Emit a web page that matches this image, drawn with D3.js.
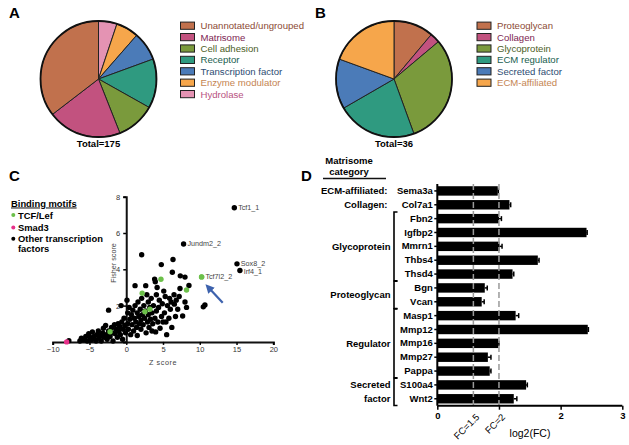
<!DOCTYPE html>
<html><head><meta charset="utf-8">
<script src="https://cdn.jsdelivr.net/npm/d3@7"></script>
<style>body{margin:0;background:#fff}svg{display:block;font-family:"Liberation Sans",Arial,sans-serif}</style>
</head><body><svg id="c" width="629" height="445"></svg>
<script>
// ---------- DATA ----------
const aCategories = ["Unannotated/ungrouped","Matrisome","Cell adhesion","Receptor","Transcription factor","Enzyme modulator","Hydrolase"];
const aCounts = [62,36,19,24,14,11,9];
const aTotal = "Total=175";
const bCategories = ["Proteoglycan","Collagen","Glycoprotein","ECM regulator","Secreted factor","ECM-affiliated"];
const bCounts = [4,1,11,8,5,7];
const bTotal = "Total=36";
const sliceFills = ["#c1714d","#c2527f","#7a9a3c","#2f9a80","#4b7bb8","#f6a64b","#e493b3"];
const legendTextColors = ["#8c4a35","#7d2552","#4d5e27","#21604f","#2e4c72","#c58552","#b8527f"];

const otherTF = [[-7.8,0.07],[-6.3,0.05],[-6.1,0.2],[-5.8,0.12],[-5.5,0.3],[-5.3,0.05],[-5.1,0.45],[-4.9,0.25],[-4.8,0.1],[-4.6,0.55],[-4.4,0.3],[-4.3,0.15],[-4.1,0.05],[-4.0,0.4],[-3.8,0.6],[-3.7,0.2],[-3.5,0.35],[-3.4,0.05],[-3.2,0.5],[-3.1,0.75],[-3.0,0.25],[-2.8,0.9],[-2.7,0.4],[-2.6,0.15],[-2.4,0.6],[-2.4,1.75],[-2.2,0.3],[-2.0,0.8],[-1.9,0.5],[-1.8,0.05],[-1.6,0.95],[-1.5,0.45],[-1.4,0.7],[-1.2,0.25],[-1.1,1.0],[-1.0,0.6],[-0.9,0.85],[-0.8,0.4],[-0.7,2.0],[-0.6,1.1],[-0.5,0.15],[-0.4,0.7],[-0.3,1.3],[-0.2,0.9],[-0.1,0.5],[0.1,2.3],[0.2,1.6],[0.2,1.0],[0.3,0.7],[0.4,1.9],[0.5,1.25],[0.6,0.4],[0.7,1.5],[0.8,0.95],[0.9,1.75],[1.0,0.6],[1.2,3.1],[1.1,1.3],[1.2,2.0],[1.3,1.1],[1.4,0.8],[1.5,1.6],[1.5,0.35],[1.6,2.2],[1.7,1.4],[1.8,1.0],[1.9,1.8],[2.0,0.7],[2.0,1.2],[2.1,4.8],[2.1,2.4],[2.2,1.5],[2.3,0.95],[2.4,2.0],[2.5,1.3],[2.6,1.7],[2.65,3.1],[2.7,0.5],[2.8,2.6],[2.9,1.1],[3.0,2.2],[3.0,1.5],[3.1,0.8],[3.2,1.9],[3.3,1.25],[3.4,2.4],[3.5,0.6],[3.5,1.6],[3.6,1.0],[3.7,2.0],[3.86,3.46],[3.95,3.31],[3.9,1.3],[4.0,0.55],[4.1,2.6],[4.1,1.7],[4.2,3.0],[4.3,1.1],[4.4,1.9],[4.5,2.3],[4.6,0.75],[4.77,4.26],[4.8,1.4],[4.9,2.1],[5.0,1.1],[5.1,2.8],[5.2,1.6],[5.3,2.5],[5.4,1.1],[5.5,0.4],[5.6,2.0],[5.8,1.3],[5.9,2.4],[6.0,1.8],[6.1,2.2],[6.2,0.8],[6.27,3.84],[6.36,4.54],[6.5,2.6],[6.54,2.08],[6.7,1.4],[6.8,2.3],[7.0,1.8],[7.2,2.5],[7.35,3.64],[7.31,2.94],[7.67,1.43],[7.99,3.57],[7.99,2.2],[8.2,1.9],[8.53,3.11],[10.48,1.93],[10.7,2.03]];
const tcfLef = [[-2.2,0.56],[2.17,2.68],[2.54,1.66],[3.22,1.8],[4.72,3.45],[8.2,2.86],[10.25,3.58]];
const smad3 = [[-8.1,0]];
const labeledNames = ["Tcf1_1","Jundm2_2","Sox8_2","Irf4_1","Tcf7l2_2"];
const labeledZ = [14.7,7.8,15.06,15.46,10.25];
const labeledF = [7.39,5.39,4.30,3.93,3.58];
const labeledGroup = ["other","other","other","other","tcf"];
const xTicksC = [-10,-5,0,5,10,15,20];
const yTicksC = [0,2,4,6,8];

const genes = ["Sema3a","Col7a1","Fbn2","Igfbp2","Mmrn1","Thbs4","Thsd4","Bgn","Vcan","Masp1","Mmp12","Mmp16","Mmp27","Pappa","S100a4","Wnt2"];
const log2FC = [0.98,1.17,1.0,2.42,1.01,1.63,1.22,0.77,0.72,1.27,2.44,0.99,0.82,0.85,1.44,1.24];
const log2FCerr = [0.01,0.02,0.04,0.01,0.04,0.02,0.02,0.04,0.04,0.05,0.01,0.01,0.05,0.02,0.02,0.05];
const groupNames = [["ECM-affiliated:"],["Collagen:"],["Glycoprotein"],["Proteoglycan"],["Regulator"],["Secreted","factor"]];
const groupStart = [0,1,2,7,9,14];
const groupEnd = [0,1,6,8,13,15];
const groupBracket = [false,false,true,true,true,true];
const xTicksD = [0,1,2,3];
const xTickLabelsD = ["0","","2","3"];
const thresholdFC = [1.5,2];
const thresholdLabels = ["FC=1.5","FC=2"];

// ---------- DRAW ----------
const svg = d3.select("#c");

function panelLabel(t,x,y){svg.append("text").attr("x",x).attr("y",y).attr("font-size",15).attr("font-weight","bold").text(t);}
panelLabel("A",9,18); panelLabel("B",315,18); panelLabel("C",9,181); panelLabel("D",301,181);

function pie(cx,cy,r,cats,counts,clockwiseOrder,total,legX){
  const idx = cats.map((c,i)=>i);
  const order = clockwiseOrder ? idx : idx.slice().reverse();
  const arcs = d3.pie().sort(null).value(i=>counts[i])(order);
  const g = svg.append("g").attr("transform",`translate(${cx},${cy})`);
  const arc = d3.arc().innerRadius(0).outerRadius(r);
  g.selectAll("path").data(arcs).join("path").attr("d",arc)
    .attr("fill",d=>sliceFills[d.data]).attr("stroke","#222").attr("stroke-width",1);
  g.append("circle").attr("r",r).attr("fill","none").attr("stroke","#111").attr("stroke-width",1.8);
  svg.append("text").attr("x",cx).attr("y",cy+r+9.5).attr("text-anchor","middle")
    .attr("font-size",9.5).attr("font-weight","bold").text(total);
  const lg = svg.append("g");
  cats.forEach((c,i)=>{
    const y = 25.7 + i*11.4;
    lg.append("rect").attr("x",legX).attr("y",y-3.6).attr("width",14).attr("height",7.2)
      .attr("fill",sliceFills[i]).attr("stroke","#222").attr("stroke-width",1);
    lg.append("text").attr("x",legX+20).attr("y",y+3.4).attr("font-size",9.6)
      .attr("fill",legendTextColors[i]).text(c);
  });
}
pie(98.5,79,58,aCategories,aCounts,false,aTotal,180.5);
pie(394,79,58,bCategories,bCounts,true,bTotal,477);

// ---- Panel C scatter ----
const xC = d3.scaleLinear().domain([-10,20]).range([52.7,273.3]);
const yC = d3.scaleLinear().domain([0,8]).range([341.9,196.7]);
const gC = svg.append("g");
const xAxC = d3.axisBottom(xC).tickValues(xTicksC).tickSize(3).tickFormat(d3.format("d"));
gC.append("g").attr("transform",`translate(0,${yC(0)})`).call(xAxC)
  .call(g=>{g.select(".domain").attr("stroke-width",2).attr("stroke","#111");
    g.selectAll(".tick line").attr("stroke-width",1.5);
    g.selectAll("text").attr("font-size",7.5).attr("fill","#333").attr("font-family","Liberation Sans, Arial").attr("dy","0.55em");});
const yAxC = d3.axisLeft(yC).tickValues(yTicksC).tickSize(3).tickFormat(d=>d===0?"":d);
gC.append("g").attr("transform",`translate(${xC(0)},0)`).call(yAxC)
  .call(g=>{g.select(".domain").attr("stroke-width",2).attr("stroke","#111");
    g.selectAll(".tick line").attr("stroke-width",1.5);
    g.selectAll("text").attr("font-size",7.5).attr("fill","#333").attr("font-family","Liberation Sans, Arial");});
gC.append("text").attr("transform","translate(116,263) rotate(-90)").attr("text-anchor","middle")
  .attr("font-size",7.2).attr("fill","#444").text("Fisher score");
gC.append("text").attr("x",163).attr("y",365).attr("text-anchor","middle")
  .attr("font-size",7.2).attr("fill","#444").attr("letter-spacing",0.6).text("Z score");

const R = 2.7;
gC.selectAll("circle.o").data(otherTF).join("circle").attr("class","o")
  .attr("cx",d=>xC(d[0])).attr("cy",d=>yC(d[1])).attr("r",R).attr("fill","#000");
gC.selectAll("circle.t").data(tcfLef).join("circle").attr("class","t")
  .attr("cx",d=>xC(d[0])).attr("cy",d=>yC(d[1])).attr("r",R).attr("fill","#6cc04a");
gC.selectAll("circle.s").data(smad3).join("circle").attr("class","s")
  .attr("cx",d=>xC(d[0])).attr("cy",d=>yC(d[1])).attr("r",R).attr("fill","#e7318a");
labeledNames.forEach((n,i)=>{
  gC.append("circle").attr("cx",xC(labeledZ[i])).attr("cy",yC(labeledF[i])).attr("r",R)
    .attr("fill",labeledGroup[i]==="tcf"?"#6cc04a":"#000");
  gC.append("text").attr("x",xC(labeledZ[i])+3.8).attr("y",yC(labeledF[i])+(n==="Irf4_1"?3.2:2.3))
    .attr("font-size",7.2).attr("fill","#444").text(n);
});
// arrow
const arrowCol = "#3d62ad";
svg.append("defs").append("marker").attr("id","ah").attr("viewBox","0 0 10 10").attr("refX",5).attr("refY",5)
  .attr("markerWidth",4).attr("markerHeight",4).attr("orient","auto")
  .append("path").attr("d","M0,0 L10,5 L0,10 z").attr("fill",arrowCol);
svg.append("line").attr("x1",222.7).attr("y1",302.7).attr("x2",208.5).attr("y2",287.5)
  .attr("stroke",arrowCol).attr("stroke-width",2.2).attr("marker-end","url(#ah)");

// legend C
const lgC = svg.append("g").attr("font-weight","bold").attr("font-size",9.4);
lgC.append("text").attr("x",11).attr("y",206.5).attr("text-decoration","underline").text("Binding motifs");
lgC.append("circle").attr("cx",13.3).attr("cy",215).attr("r",2).attr("fill","#6cc04a");
lgC.append("text").attr("x",18).attr("y",218.5).text("TCF/Lef");
lgC.append("circle").attr("cx",13.3).attr("cy",227.5).attr("r",2).attr("fill","#e7318a");
lgC.append("text").attr("x",18).attr("y",231).text("Smad3");
lgC.append("circle").attr("cx",13.3).attr("cy",238.8).attr("r",2).attr("fill","#000");
lgC.append("text").attr("x",18).attr("y",241.8).text("Other transcription");
lgC.append("text").attr("x",18).attr("y",252.2).text("factors");

// ---- Panel D bars ----
const xD = d3.scaleLinear().domain([0,3]).range([437.3,622.3]);
const yD = d3.scaleBand().domain(genes).range([184,405.7]).paddingInner(0.32).paddingOuter(0.16);
const gD = svg.append("g");
gD.append("text").attr("x",349).attr("y",164).attr("text-anchor","middle").attr("font-size",9.5).attr("font-weight","bold").text("Matrisome");
gD.append("text").attr("x",349).attr("y",175).attr("text-anchor","middle").attr("font-size",9.5).attr("font-weight","bold").text("category");
gD.append("line").attr("x1",323).attr("x2",386).attr("y1",178.5).attr("y2",178.5).attr("stroke","#111").attr("stroke-width",1.5);

gD.selectAll("rect.bar").data(genes).join("rect").attr("class","bar")
  .attr("x",xD(0)).attr("y",g=>yD(g)).attr("height",yD.bandwidth())
  .attr("width",(g,i)=>xD(log2FC[i])-xD(0)).attr("fill","#000");
genes.forEach((g,i)=>{
  const yc = yD(g)+yD.bandwidth()/2;
  const x2 = xD(log2FC[i]+log2FCerr[i]);
  gD.append("line").attr("x1",xD(log2FC[i])).attr("x2",x2).attr("y1",yc).attr("y2",yc).attr("stroke","#000").attr("stroke-width",1.5);
  gD.append("line").attr("x1",x2).attr("x2",x2).attr("y1",yc-2.5).attr("y2",yc+2.5).attr("stroke","#000").attr("stroke-width",1.5);
});
thresholdFC.forEach(fc=>{
  gD.append("line").attr("x1",xD(Math.log2(fc))).attr("x2",xD(Math.log2(fc))).attr("y1",184).attr("y2",405.7)
    .attr("stroke","#9a9a9a").attr("stroke-width",1.5).attr("stroke-dasharray","6,3");
});
const yAxD = d3.axisLeft(yD).tickSize(3).tickPadding(1.5);
gD.append("g").attr("transform",`translate(${xD(0)},0)`).call(yAxD)
  .call(g=>{g.select(".domain").attr("stroke-width",2).attr("d",`M-0.0,184V405.7`);
    g.selectAll(".tick line").attr("stroke-width",1.5);
    g.selectAll("text").attr("font-size",9.5).attr("font-weight","bold").attr("fill","#000").attr("font-family","Liberation Sans, Arial");});
const xAxD = d3.axisBottom(xD).tickValues(xTicksD).tickSize(4).tickFormat((d,i)=>xTickLabelsD[i]);
gD.append("g").attr("transform","translate(0,405.7)").call(xAxD)
  .call(g=>{g.select(".domain").attr("stroke-width",2).attr("d","M437.3,0H622.3");
    g.selectAll(".tick line").attr("stroke-width",1.5);
    g.selectAll("text").attr("font-size",9.5).attr("font-weight","bold").attr("fill","#000").attr("font-family","Liberation Sans, Arial");});
thresholdFC.forEach((fc,i)=>{
  const x = xD(Math.log2(fc));
  gD.append("text").attr("transform",`translate(${x+2},413) rotate(-45)`).attr("text-anchor","end")
    .attr("dy","0.7em").attr("font-size",9.5).attr("fill","#000").text(thresholdLabels[i]);
});
gD.append("text").attr("x",530).attr("y",437).attr("text-anchor","middle").attr("font-size",10.5).attr("fill","#000").text("log2(FC)");

// groups
groupNames.forEach((lines,k)=>{
  const y0 = yD(genes[groupStart[k]]), y1 = yD(genes[groupEnd[k]])+yD.bandwidth();
  const ym = (y0+y1)/2;
  const tx = groupBracket[k] ? 390.5 : 387.5;
  lines.forEach((t,j)=>{
    gD.append("text").attr("x",tx).attr("y",ym+3.4+(j-(lines.length-1)/2)*13.5).attr("text-anchor","end")
      .attr("font-size",9.5).attr("font-weight","bold").text(t);
  });
  if(groupBracket[k]){
    gD.append("path").attr("d",`M397.5,${y0-2}H394V${y1+2}H397.5`).attr("fill","none").attr("stroke","#000").attr("stroke-width",1.6);
  }
});
</script></body></html>
